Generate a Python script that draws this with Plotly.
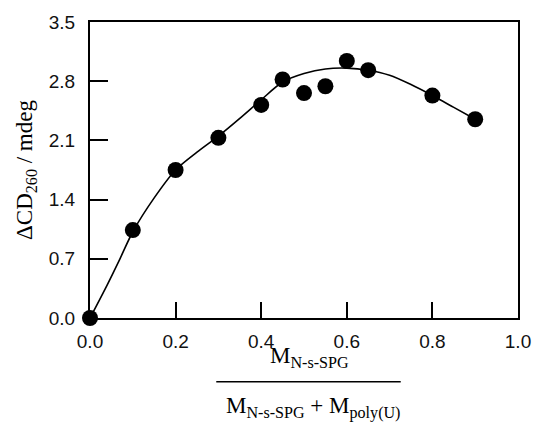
import plotly.graph_objects as go

# Measured ΔCD260 against the N-s-SPG mole fraction
mole_fraction = [0.0, 0.1, 0.2, 0.3, 0.4, 0.45, 0.5, 0.55, 0.6, 0.65, 0.8, 0.9]
delta_cd = [0.0, 1.04, 1.75, 2.13, 2.52, 2.82, 2.66, 2.74, 3.04, 2.93, 2.63, 2.35]

# Fitted trend curve
fit_x = [0.0, 0.04, 0.07, 0.10, 0.15, 0.20, 0.25, 0.30, 0.35, 0.40,
         0.45, 0.50, 0.55, 0.60, 0.65, 0.70, 0.75, 0.80, 0.85, 0.90]
fit_y = [0.0, 0.39, 0.70, 1.02, 1.42, 1.75, 1.96, 2.15, 2.36, 2.58,
         2.79, 2.89, 2.945, 2.955, 2.93, 2.87, 2.76, 2.63, 2.49, 2.35]

x_ticks = [0.0, 0.2, 0.4, 0.6, 0.8, 1.0]
y_ticks = [0.0, 0.7, 1.4, 2.1, 2.8, 3.5]

fig = go.Figure()
fig.add_trace(go.Scatter(
    x=fit_x, y=fit_y, mode="lines",
    line=dict(color="black", width=1.6, shape="spline", smoothing=0.8),
    hoverinfo="skip", cliponaxis=False,
))
fig.add_trace(go.Scatter(
    x=mole_fraction, y=delta_cd, mode="markers",
    marker=dict(color="black", size=16, line=dict(width=0)),
    cliponaxis=False,
))

tick_font = dict(family="Liberation Sans, Arial", size=19, color="#111")
serif = "Liberation Serif, Times New Roman"

fig.update_xaxes(
    range=[0, 1], tickvals=x_ticks, ticktext=[f"{v:.1f}" for v in x_ticks],
    ticks="inside", ticklen=16, tickwidth=2, tickcolor="black",
    showline=True, linecolor="black", linewidth=2, mirror=True,
    showgrid=False, zeroline=False, tickfont=tick_font, ticklabelstandoff=5,
)
fig.update_yaxes(
    range=[0, 3.5], tickvals=y_ticks, ticktext=[f"{v:.1f}" for v in y_ticks],
    ticks="inside", ticklen=18, tickwidth=2, tickcolor="black",
    showline=True, linecolor="black", linewidth=2, mirror=True,
    showgrid=False, zeroline=False, tickfont=tick_font, ticklabelstandoff=9,
    title=dict(text="ΔCD<sub>260</sub> / mdeg",
               font=dict(family=serif, size=23, color="black"), standoff=10),
)

fig.update_layout(
    width=543, height=422,
    margin=dict(l=90, r=19, t=17, b=104),
    plot_bgcolor="white", paper_bgcolor="white",
    showlegend=False,
    annotations=[
        dict(text="M<sub>N-s-SPG</sub>", xref="paper", yref="paper",
             x=0.512, y=-0.185, xanchor="center", yanchor="bottom",
             showarrow=False, font=dict(family=serif, size=23, color="black")),
        dict(text="M<sub>N-s-SPG</sub> + M<sub>poly(U)</sub>", xref="paper", yref="paper",
             x=0.52, y=-0.245, xanchor="center", yanchor="top",
             showarrow=False, font=dict(family=serif, size=23, color="black")),
    ],
    shapes=[
        dict(type="line", xref="paper", yref="paper",
             x0=0.295, x1=0.726, y0=-0.2153, y1=-0.2153,
             line=dict(color="black", width=1.5)),
    ],
)

fig.write_html("out.html")
